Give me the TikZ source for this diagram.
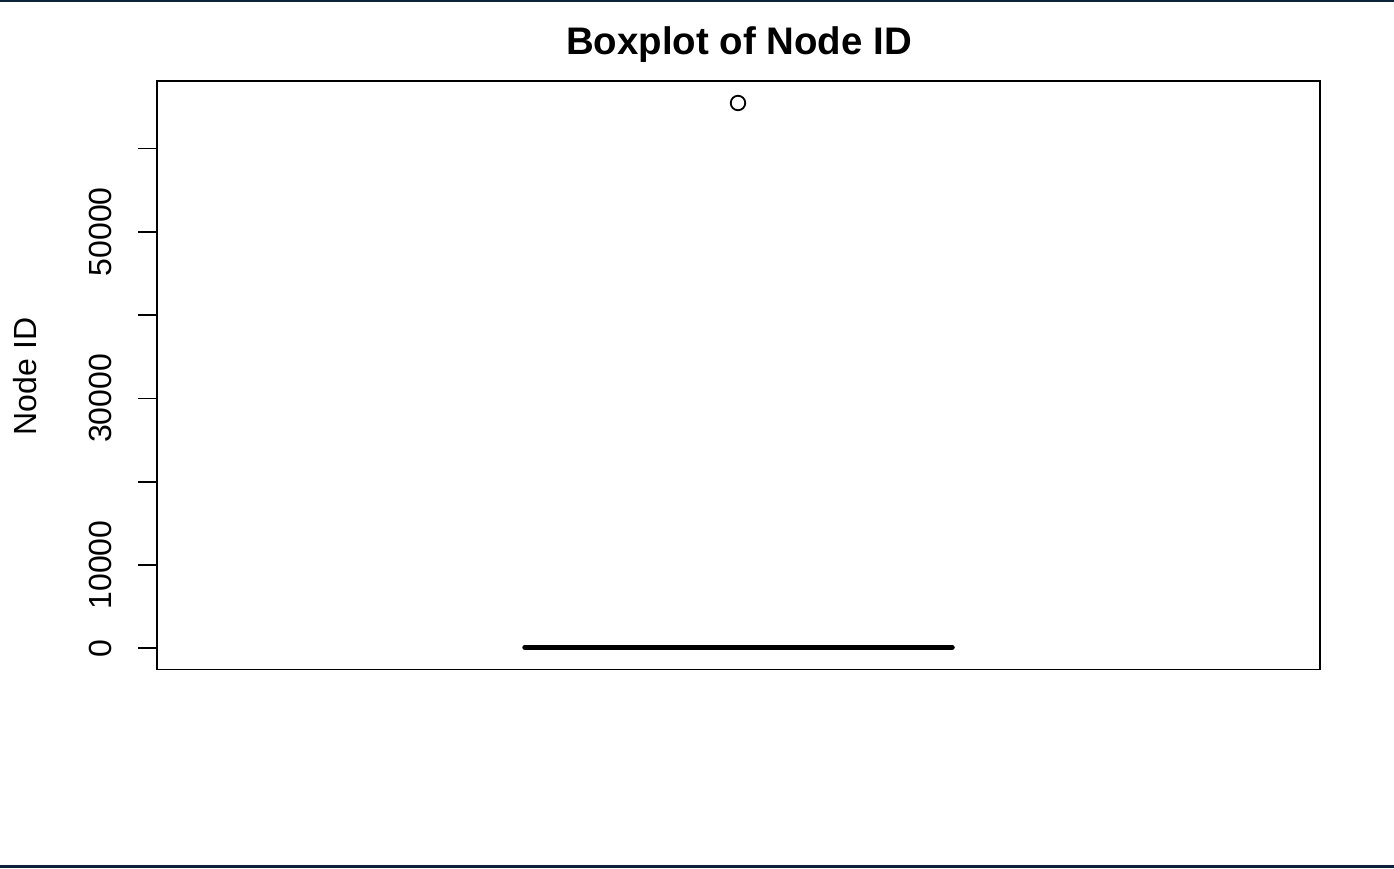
\documentclass[tikz,border=0pt]{standalone}
\usepackage{fontspec}
\setmainfont{Liberation Sans}
\definecolor{edgenavy}{HTML}{0B2239}
\tikzset{
  axisline/.style={line width=1.8pt, black},
  ticklabel/.style={rotate=90, inner sep=0pt, font=\fontsize{32}{32}\selectfont},
  titletext/.style={inner sep=0pt, anchor=base, font=\fontsize{38.4}{38}\selectfont\bfseries},
  medianline/.style={line width=5.5pt, line cap=round},
  outlier/.style={circle, draw, line width=1.8pt, minimum size=14.5pt, inner sep=0pt}
}
\begin{document}
\begin{tikzpicture}[x=1pt,y=-1pt]
\useasboundingbox (0,0) rectangle (1394,868);
\fill[white] (0,0) rectangle (1394,868);
% frame edges of the image
\draw[edgenavy, line width=1.5pt] (0,0.75) -- (1394,0.75);
\draw[edgenavy, line width=3pt] (0,866.5) -- (1394,866.5);
% title
\node[titletext] (title) at (739,54.7) {Boxplot of Node ID};
% plot box
\draw[axisline] (157,81) rectangle (1320,669.5);
% y axis ticks and labels
\foreach \v/\yy in {0/648.3,10000/565,20000/481.7,30000/398.4,40000/315,50000/231.7,60000/148.4}{
  \coordinate (t\v) at (157,\yy);
  \coordinate (e\v) at (137.5,\yy);
  \draw[axisline] (t\v) -- (e\v);
}
\foreach \v in {0,10000,30000,50000}{
  \node[ticklabel] (l\v) at ([xshift=-37.5pt]e\v) {\v};
}
\node[ticklabel] (ytitle) at (25.5,376.5) {Node ID};
% median (box collapsed at zero)
\coordinate (ml) at (525,647.3);
\coordinate (mr) at (952,647.3);
\draw[medianline] (ml) -- (mr);
% outlier
\node[outlier] (out) at (738,103) {};
\end{tikzpicture}
\end{document}
